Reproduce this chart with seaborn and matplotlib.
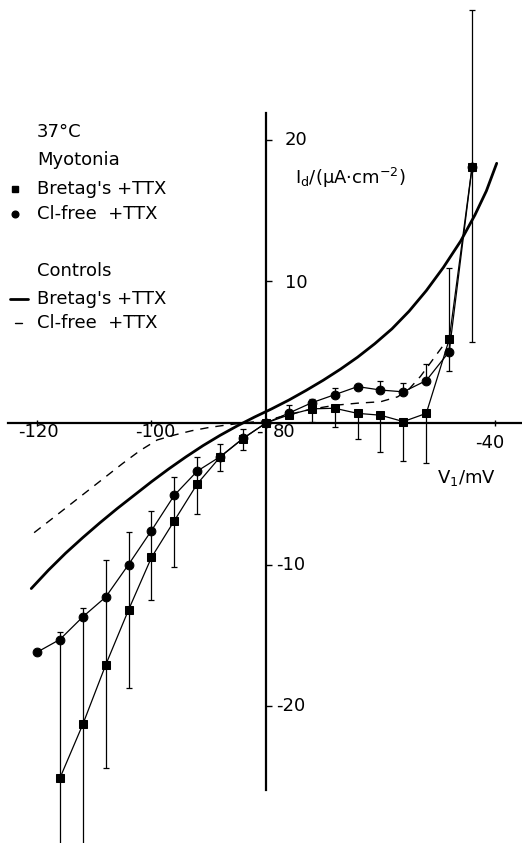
import matplotlib
matplotlib.use("Agg")
import matplotlib.pyplot as plt
from matplotlib.lines import Line2D
import seaborn as sns

sns.set_style("white")
plt.rcParams['font.family'] = ['DejaVu Sans']
plt.rcParams['mathtext.fontset'] = 'dejavusans'

# ---------------- data ----------------
# Myotonia, Bretag's + TTX (squares)
v_sq = [-116, -112, -108, -104, -100, -96, -92, -88, -84, -80, -76, -72, -68, -64, -60, -56, -52, -48, -44]
i_sq = [-25.1, -21.3, -17.1, -13.2, -9.5, -6.9, -4.3, -2.4, -1.1, 0.0, 0.57, 1.0, 1.04, 0.68, 0.55, 0.1, 0.68, 5.9, 18.1]
sq_err_lo = [10.3, 9.0, 7.3, 5.5, 3.0, 3.3, 2.1, 1.0, 0.8, 0.0, 0.0, 0.9, 1.3, 1.8, 2.6, 2.8, 3.5, 2.2, 12.4]
sq_err_hi = [10.3, 8.2, 7.4, 5.5, 3.3, 3.1, 1.9, 0.95, 0.7, 0.0, 0.0, 0.0, 0.0, 0.0, 0.0, 0.0, 0.0, 0.0, 11.1]

# Myotonia, Cl-free + TTX (circles)
v_ci = [-120, -116, -112, -108, -104, -100, -96, -92, -88, -84, -80, -76, -72, -68, -64, -60, -56, -52, -48, -44]
i_ci = [-16.2, -15.3, -13.7, -12.3, -10.0, -7.6, -5.1, -3.4, -2.38, -1.08, 0.0, 0.7, 1.43, 2.0, 2.57, 2.33, 2.2, 3.0, 5.04, 18.1]
ci_err_hi = [0, 0, 0, 0, 0, 0, 0, 0, 0, 0, 0, 0.6, 0.3, 0.5, 0.0, 0.65, 0.65, 1.2, 5.9, 0]

# Controls, Bretag's + TTX (solid curve)
v_ctl_b = [-121, -118, -115, -112, -109, -106, -103, -100, -97, -94, -91, -88, -85, -82, -79,
           -76, -73, -70, -67, -64, -61, -58, -55, -52, -49, -46, -43.5, -41.5, -39.7]
i_ctl_b = [-11.7, -10.4, -9.2, -8.1, -7.05, -6.05, -5.1, -4.15, -3.25, -2.4, -1.6, -0.87, -0.2, 0.42, 1.0,
           1.62, 2.3, 3.02, 3.8, 4.65, 5.6, 6.65, 7.9, 9.35, 11.0, 12.85, 14.7, 16.4, 18.35]

# Controls, Cl-free + TTX (dashed curve)
v_ctl_c = [-120.5, -117, -114, -111, -108, -105, -102, -99, -96, -93, -90, -87, -84, -80,
           -76, -72, -68, -64, -60, -57, -55, -53, -51, -49, -47.8]
i_ctl_c = [-7.75, -6.65, -5.7, -4.75, -3.8, -2.85, -1.95, -1.2, -0.85, -0.55, -0.32, -0.15, 0.0, 0.16,
           0.6, 0.98, 1.25, 1.4, 1.5, 1.85, 2.4, 3.3, 4.4, 5.5, 6.3]

x_ticks = [-120, -100, -40]
y_ticks = [20, 10, -10, -20]

# ---------------- figure ----------------
W, H = 522, 843
fig = plt.figure(figsize=(W / 100, H / 100), dpi=100)
ax = fig.add_axes([0, 0, 1, 1])
ax.set_xlim(-126.46, -35.28)
ax.set_ylim(-29.68, 29.89)
ax.patch.set_alpha(0)

# axes through the origin at (-80, 0)
for s in ['top', 'right']:
    ax.spines[s].set_visible(False)
ax.spines['left'].set_position(('data', -80))
ax.spines['bottom'].set_position(('data', 0))
ax.spines['left'].set_bounds(-25.9, 21.9)
ax.spines['bottom'].set_bounds(-125, -35.28)
for s in ['left', 'bottom']:
    ax.spines[s].set_linewidth(1.6)
    ax.spines[s].set_color('black')

ax.set_xticks(x_ticks)
ax.set_yticks(y_ticks)
ax.set_xticklabels([])
ax.set_yticklabels([])
ax.tick_params(axis='x', direction='inout', length=4, width=1, colors='black', bottom=True)
ax.tick_params(axis='y', direction='in', length=4, width=1, colors='black', left=True)
ax.grid(False)

# control curves
sns.lineplot(x=v_ctl_b, y=i_ctl_b, ax=ax, color='black', linewidth=2.0, zorder=3)
sns.lineplot(x=v_ctl_c, y=i_ctl_c, ax=ax, color='black', linewidth=1.0, zorder=3)
ax.lines[-1].set_linestyle((0, (6, 5)))

# error bars
ax.errorbar(v_sq, i_sq, yerr=[sq_err_lo, sq_err_hi], fmt='none', ecolor='black',
            elinewidth=0.9, capsize=2.2, capthick=0.9, zorder=2)
ax.errorbar(v_ci, i_ci, yerr=[[0] * len(ci_err_hi), ci_err_hi], fmt='none', ecolor='black',
            elinewidth=0.9, capsize=2.2, capthick=0.9, zorder=2)

# myotonia series
sns.lineplot(x=v_ci, y=i_ci, ax=ax, color='black', linewidth=0.9, marker='o',
             markersize=6.3, markeredgecolor='black', markerfacecolor='black', zorder=4)
sns.lineplot(x=v_sq, y=i_sq, ax=ax, color='black', linewidth=0.9, marker='s',
             markersize=6.0, markeredgecolor='black', markerfacecolor='black', zorder=5)

ax.set_xlabel('')
ax.set_ylabel('')

fs = 13
def ftext(x, y, s, **kw):
    kw.setdefault('fontsize', fs)
    kw.setdefault('va', 'center')
    fig.text(x / W, 1 - y / H, s, color='black', **kw)

# x tick labels
ftext(38, 432, '-120', ha='center')
ftext(155, 432, '-100', ha='center')
ftext(259, 432, '-', ha='center')
ftext(273, 432, '80', ha='left')
ftext(490, 443, '-40', ha='center')

# y tick labels
ftext(285, 140, '20', ha='left')
ftext(285, 283, '10', ha='left')
ftext(276, 565, '-10', ha='left')
ftext(276, 706, '-20', ha='left')

# axis titles
ftext(295, 178, r'I$_{\mathregular{d}}$/(μA·cm$^{\mathregular{-2}}$)', ha='left')
ftext(437, 478, r'V$_{\mathregular{1}}$/mV', ha='left')

# legend text
ftext(37, 132, '37°C', ha='left')
ftext(37, 160, 'Myotonia', ha='left')
ftext(37, 189, "Bretag's +TTX", ha='left')
ftext(37, 214, "Cl-free  +TTX", ha='left')
ftext(37, 271, 'Controls', ha='left')
ftext(37, 299, "Bretag's +TTX", ha='left')
ftext(37, 323, "Cl-free  +TTX", ha='left')

# legend glyphs
fig.add_artist(Line2D([15 / W], [1 - 189 / H], marker='s', markersize=4.5, color='black', linestyle='none'))
fig.add_artist(Line2D([15 / W], [1 - 214 / H], marker='o', markersize=4.8, color='black', linestyle='none'))
fig.add_artist(Line2D([10 / W, 28 / W], [1 - 299 / H, 1 - 299 / H], color='black', linewidth=2.0))
fig.add_artist(Line2D([15 / W, 22 / W], [1 - 323 / H, 1 - 323 / H], color='black', linewidth=1.0))

fig.savefig('out.png', dpi=100)
